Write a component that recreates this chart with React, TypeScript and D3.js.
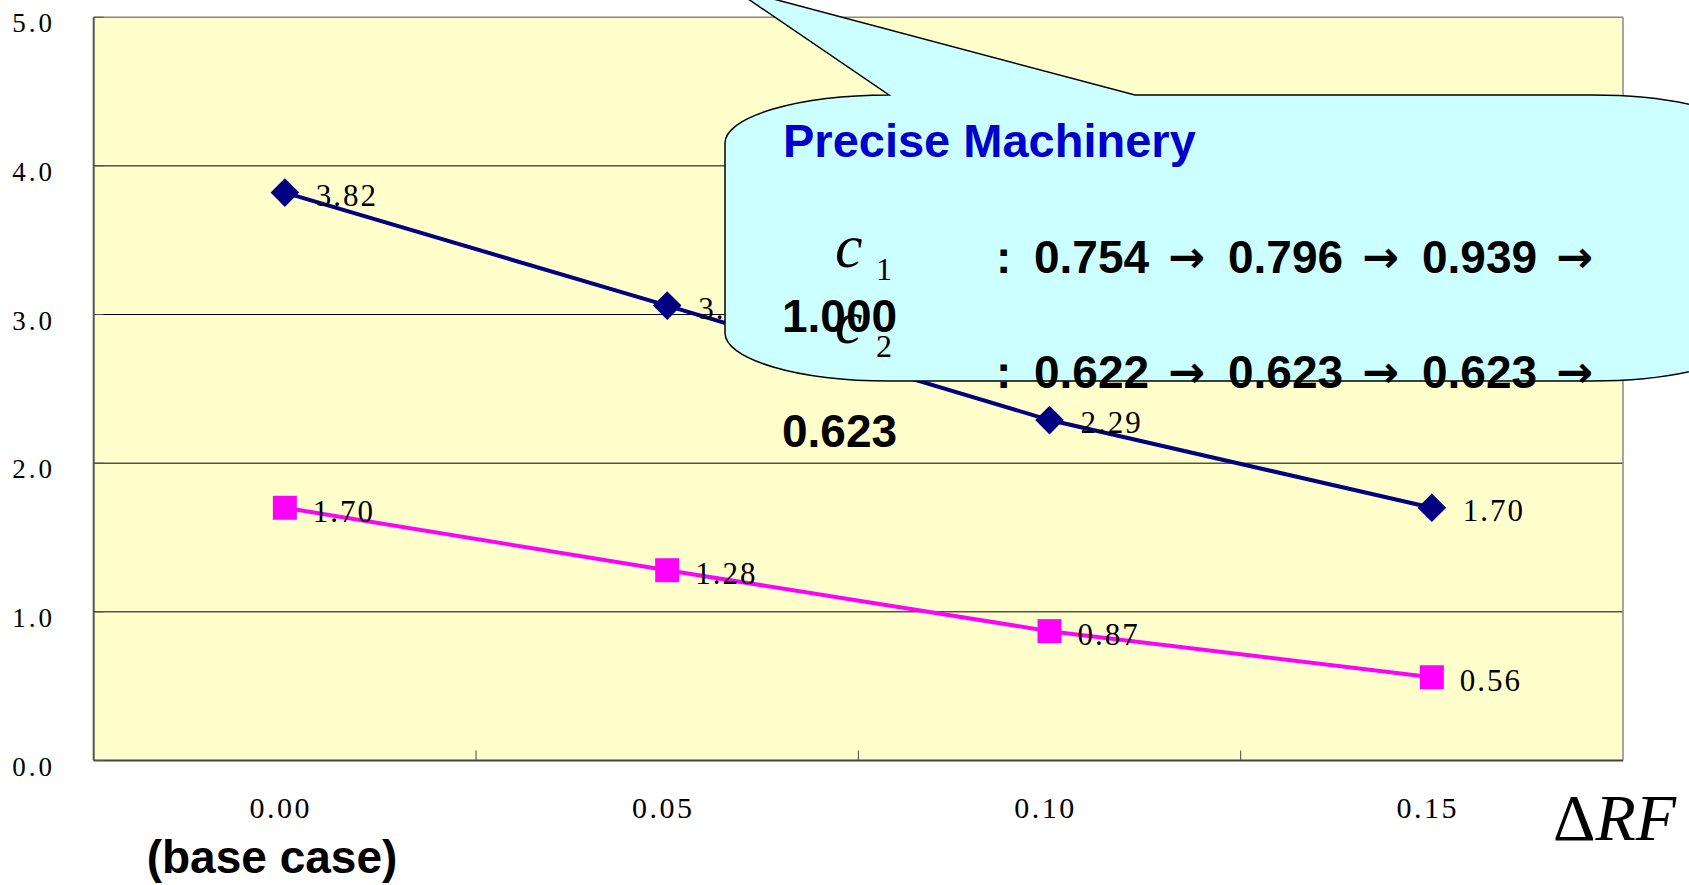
import React from "react";
import * as d3 from "d3";

const categories = ["0.00", "0.05", "0.10", "0.15"];
const seriesA = [3.82, 3.06, 2.29, 1.7];
const seriesB = [1.7, 1.28, 0.87, 0.56];
const yTicks = [0, 1, 2, 3, 4, 5];
const c1Values = ["0.754", "0.796", "0.939", "1.000"];
const c2Values = ["0.622", "0.623", "0.623", "0.623"];

const W = 1689;
const H = 885;
const PL = 93.7, PR = 1623, PT = 17.2, PB = 760.5;
const SERIF = "'Liberation Serif', 'Times New Roman', serif";
const SANS = "'Liberation Sans', Arial, Helvetica, sans-serif";

export default function App() {
  const x = d3.scaleBand<string>().domain(categories).range([PL, PR]).padding(0);
  const y = d3.scaleLinear().domain([0, 5]).range([PB, PT]);
  const cx = (c: string) => (x(c) as number) + x.bandwidth() / 2;

  const line = d3
    .line<number>()
    .x((_, i) => cx(categories[i]))
    .y((d) => y(d));

  const diamond = d3.symbol(d3.symbolSquare, 410)();
  const square = d3.symbol(d3.symbolSquare, 576)();

  // callout geometry
  const bx0 = 725, bx1 = 1756, by0 = 95, by1 = 381, rx = 164, ry = 48;
  const callout = [
    `M${bx0},${by0 + ry}`,
    `A${rx},${ry} 0 0 1 ${bx0 + rx},${by0}`,
    `L732,-12`,
    `L1135,${by0}`,
    `L${bx1 - rx},${by0}`,
    `A${rx},${ry} 0 0 1 ${bx1},${by0 + ry}`,
    `L${bx1},${by1 - ry}`,
    `A${rx},${ry} 0 0 1 ${bx1 - rx},${by1}`,
    `L${bx0 + rx},${by1}`,
    `A${rx},${ry} 0 0 1 ${bx0},${by1 - ry}`,
    "Z",
  ].join(" ");

  const valueRow = (vals: string[], baseline: number, key: string) => (
    <g key={key} fontFamily={SANS} fontWeight="bold" fontSize={46} fill="#000">
      <text x={996} y={baseline}>:</text>
      {vals.slice(0, 3).map((v, i) => (
        <g key={i}>
          <text x={1034 + i * 194} y={baseline}>{v}</text>
          <text
            x={1168 + i * 194}
            y={baseline - 1}
            fontFamily="'DejaVu Sans', sans-serif"
            fontSize={44}
          >
            →
          </text>
        </g>
      ))}
      <text x={782} y={baseline + 59}>{vals[3]}</text>
    </g>
  );

  return (
    <svg
      width={W}
      height={H}
      style={{ position: "absolute", left: 0, top: 0, display: "block", background: "#fff" }}
    >
      {/* plot area */}
      <rect x={PL} y={PT} width={PR - PL} height={PB - PT} fill="#FFFFCC" />
      {yTicks
        .filter((t) => t > 0 && t < 5)
        .map((t) => (
          <line key={t} x1={PL} x2={PR} y1={y(t)} y2={y(t)} stroke="#000" strokeWidth={1} />
        ))}
      {/* frame */}
      <line x1={PL} x2={PR} y1={PT} y2={PT} stroke="#888" strokeWidth={1.5} />
      <line x1={PR} x2={PR} y1={PT} y2={PB} stroke="#888" strokeWidth={1.5} />
      <line x1={PL} x2={PL} y1={PT} y2={PB} stroke="#555" strokeWidth={2} />
      <line x1={PL} x2={PR} y1={PB} y2={PB} stroke="#444" strokeWidth={2} />
      {/* y ticks */}
      {yTicks.map((t) => (
        <g key={t}>
          <line x1={PL} x2={PL + 10} y1={y(t)} y2={y(t)} stroke="#555" strokeWidth={1} />
          <text
            x={55}
            y={y(t) + 15}
            textAnchor="end"
            fontFamily={SERIF}
            fontSize={27}
            letterSpacing={3}
            fill="#000"
          >
            {d3.format(".1f")(t)}
          </text>
        </g>
      ))}
      {/* x ticks */}
      {categories.slice(1).map((c) => (
        <line key={c} x1={x(c) as number} x2={x(c) as number} y1={PB} y2={PB - 10} stroke="#444" strokeWidth={1} />
      ))}
      {categories.map((c) => (
        <text
          key={c}
          x={cx(c) - 4}
          y={818}
          textAnchor="middle"
          fontFamily={SERIF}
          fontSize={30}
          letterSpacing={2.5}
          fill="#000"
        >
          {c}
        </text>
      ))}
      <text x={272} y={873} textAnchor="middle" fontFamily={SANS} fontWeight="bold" fontSize={46} fill="#000">
        (base case)
      </text>
      <text x={1553} y={840} fontFamily={SERIF} fontSize={66} fill="#000">
        Δ<tspan fontStyle="italic">RF</tspan>
      </text>

      {/* series */}
      <path d={line(seriesA) as string} fill="none" stroke="#000080" strokeWidth={4} />
      <path d={line(seriesB) as string} fill="none" stroke="#FF00FF" strokeWidth={4} />
      {seriesA.map((v, i) => (
        <path
          key={"a" + i}
          d={diamond as string}
          transform={`translate(${cx(categories[i])},${y(v)}) rotate(45)`}
          fill="#000080"
        />
      ))}
      {seriesB.map((v, i) => (
        <path
          key={"b" + i}
          d={square as string}
          transform={`translate(${cx(categories[i])},${y(v)})`}
          fill="#FF00FF"
        />
      ))}
      {seriesA.map((v, i) => (
        <text
          key={"la" + i}
          x={cx(categories[i]) + 31}
          y={y(v) + 13}
          fontFamily={SERIF}
          fontSize={31}
          letterSpacing={2}
          fill="#000"
        >
          {d3.format(".2f")(v)}
        </text>
      ))}
      {seriesB.map((v, i) => (
        <text
          key={"lb" + i}
          x={cx(categories[i]) + 28}
          y={y(v) + 14}
          fontFamily={SERIF}
          fontSize={31}
          letterSpacing={2}
          fill="#000"
        >
          {d3.format(".2f")(v)}
        </text>
      ))}

      {/* callout */}
      <path d={callout} fill="#CCFFFF" stroke="#000" strokeWidth={1.5} />
      <text x={783} y={157} fontFamily={SANS} fontWeight="bold" fontSize={47} fill="#0000CC">
        Precise Machinery
      </text>
      <g fontFamily={SERIF} fill="#000">
        <text x={835} y={267} fontSize={62} fontStyle="italic">c</text>
        <text x={876} y={280} fontSize={32}>1</text>
        <text x={835} y={343} fontSize={62} fontStyle="italic">c</text>
        <text x={876} y={357} fontSize={32}>2</text>
      </g>
      {valueRow(c1Values, 273, "r1")}
      {valueRow(c2Values, 388, "r2")}
    </svg>
  );
}
